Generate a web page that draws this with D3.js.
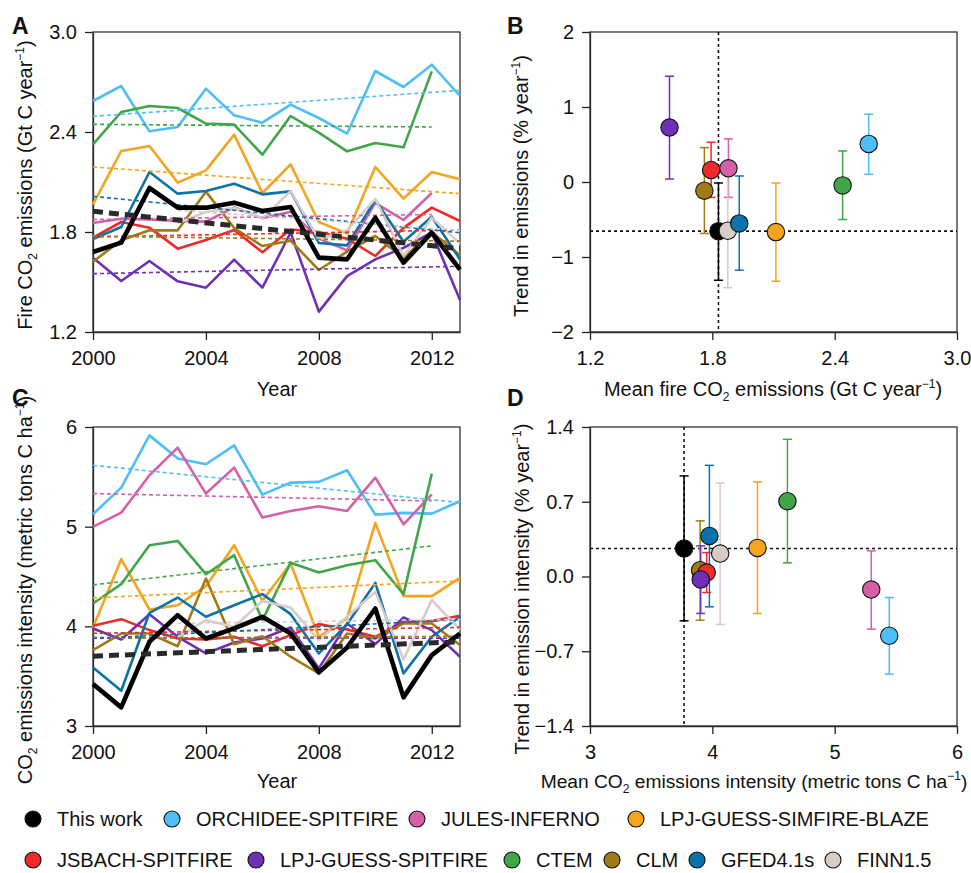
<!DOCTYPE html>
<html><head><meta charset="utf-8">
<script src="https://cdn.jsdelivr.net/npm/d3@7"></script>
<style>
body{margin:0;background:#fff}
svg{display:block}
text{font-family:"Liberation Sans",Arial,Helvetica,sans-serif;fill:#111}
</style>
</head><body>
<svg id="c" width="971" height="873"></svg>
<script>
// ---------------- DATA ----------------
const years = [2000,2001,2002,2003,2004,2005,2006,2007,2008,2009,2010,2011,2012,2013];
const models = ["This work","ORCHIDEE-SPITFIRE","JULES-INFERNO","LPJ-GUESS-SIMFIRE-BLAZE",
  "JSBACH-SPITFIRE","LPJ-GUESS-SPITFIRE","CTEM","CLM","GFED4.1s","FINN1.5"];
const colors = ["#000000","#4DBEF7","#D660A8","#F4A41D","#EE2A2A","#7030B5","#41A549","#A07A17","#0B72AA","#D9CBC8"];

// Panel A: fire CO2 emissions (Gt C / year)
const emisThisWork = [1.68,1.736,2.064,1.946,1.946,1.976,1.926,1.95,1.646,1.636,1.886,1.616,1.796,1.574];
const emisOrchidee = [2.586,2.676,2.404,2.43,2.66,2.50,2.456,2.564,2.484,2.39,2.766,2.67,2.804,2.616];
const emisJules    = [1.854,1.88,1.876,1.866,1.862,1.948,1.882,1.922,1.76,1.69,1.975,1.872,2.034,null];
const emisSimfire  = [1.966,2.286,2.316,2.096,2.17,2.384,2.034,2.206,1.86,1.79,2.19,2.0,2.16,2.116];
const emisJsbach   = [1.766,1.86,1.826,1.70,1.752,1.812,1.678,1.815,1.80,1.76,1.656,1.825,1.946,1.866];
const emisSpitfire = [1.646,1.506,1.626,1.504,1.466,1.634,1.466,1.797,1.322,1.535,1.636,1.705,1.797,1.392];
const emisCtem     = [2.326,2.52,2.556,2.544,2.45,2.444,2.264,2.496,2.396,2.284,2.334,2.308,2.764,null];
const emisClm      = [1.622,1.75,1.81,1.81,2.042,1.824,1.716,1.748,1.572,1.682,1.776,1.644,1.80,1.66];
const emisGfed     = [1.758,1.83,2.16,2.03,2.046,2.09,2.026,2.044,1.734,1.72,1.992,1.742,1.892,1.635];
const emisFinn     = [null,null,null,1.854,1.92,1.945,1.882,2.045,1.755,1.81,1.998,1.656,1.886,1.73];

// Panel C: CO2 emissions intensity (metric tons C / ha)
const intThisWork = [3.421,3.187,3.845,4.112,3.878,3.979,4.096,3.928,3.538,3.788,4.179,3.287,3.711,3.928];
const intOrchidee = [5.125,5.392,5.916,5.683,5.626,5.816,5.322,5.442,5.449,5.566,5.121,5.138,5.131,5.255];
const intJules    = [4.998,5.141,5.516,5.793,5.332,5.592,5.091,5.158,5.205,5.158,5.492,5.024,5.325,null];
const intSimfire  = [3.989,4.674,4.169,4.212,4.403,4.814,4.256,4.63,3.895,4.079,5.038,4.303,4.303,4.486];
const intJsbach   = [4.005,4.072,3.962,3.878,3.868,3.895,3.801,3.912,4.022,3.969,3.895,4.045,4.052,4.106];
const intSpitfire = [3.979,3.868,4.122,3.895,3.728,3.838,3.878,3.989,3.578,4.029,3.822,4.089,3.962,3.695];
const intCtem     = [4.229,4.423,4.814,4.857,4.523,4.714,4.062,4.637,4.54,4.613,4.664,4.323,5.532,null];
const intClm      = [3.761,3.928,3.928,3.80,4.48,3.82,3.90,3.695,3.528,3.928,3.878,4.029,4.029,3.812];
const intGfed     = [3.588,3.354,4.136,4.289,4.096,4.212,4.323,4.122,3.728,4.022,4.436,3.528,3.895,4.096];
const intFinn     = [null,null,null,3.888,4.062,3.995,4.253,4.189,3.862,4.096,4.346,3.668,4.263,3.969];

// Linear trend lines (start year, end year, start value, end value)
const trendYearStart = [2000,2000,2000,2000,2000,2000,2000,2000,2000,2003];
const trendYearEnd   = [2013,2013,2012,2013,2013,2013,2012,2013,2013,2013];
const trendEmisStart = [1.924,2.494,1.875,2.19,1.77,1.55,2.446,1.775,2.014,1.93];
const trendEmisEnd   = [1.70,2.65,1.905,2.03,1.812,1.594,2.43,1.745,1.796,1.81];
const trendIntStart  = [3.701,5.616,5.332,4.286,3.93,3.888,4.416,3.88,3.878,4.03];
const trendIntEnd    = [3.845,5.242,5.258,4.456,3.99,3.88,4.807,3.90,4.069,4.07];

// Panel B: mean emissions vs trend (% / year), with ranges
const meanEmis   = [1.83,2.567,1.879,2.112,1.794,1.59,2.439,1.761,1.932,1.876];
const trendEmis  = [-0.655,0.508,0.183,-0.668,0.16,0.726,-0.045,-0.116,-0.552,-0.65];
const trendEmisLo= [-1.31,0.102,-0.205,-1.323,-0.205,0.04,-0.5,-0.686,-1.176,-1.408];
const trendEmisHi= [-0.013,0.904,0.575,-0.013,0.53,1.41,0.414,0.459,0.08,0.11];

// Panel D: mean intensity vs trend (% / year), with ranges
const meanInt    = [3.769,5.446,5.299,4.369,3.954,3.905,4.614,3.9,3.976,4.064];
const trendInt   = [0.262,-0.555,-0.122,0.268,0.037,-0.028,0.705,0.059,0.38,0.215];
const trendIntLo = [-0.415,-0.914,-0.493,-0.346,-0.15,-0.346,0.128,-0.409,-0.284,-0.449];
const trendIntHi = [0.942,-0.197,0.24,0.886,0.224,0.287,1.285,0.521,1.041,0.876];

// Tick labels
const yearTicks = [2000,2004,2008,2012];
const ticksA = [1.2,1.8,2.4,3.0];
const ticksC = [3,4,5,6];
const ticksBx = [1.2,1.8,2.4,3.0];
const ticksBy = [-2,-1,0,1,2];
const ticksDx = [3,4,5,6];
const ticksDy = [-1.4,-0.7,0.0,0.7,1.4];

const emisSeries = [emisThisWork,emisOrchidee,emisJules,emisSimfire,emisJsbach,emisSpitfire,emisCtem,emisClm,emisGfed,emisFinn];
const intSeries  = [intThisWork,intOrchidee,intJules,intSimfire,intJsbach,intSpitfire,intCtem,intClm,intGfed,intFinn];

// ---------------- DRAWING ----------------
const svg = d3.select("#c");
const FS = 20;

function rich(sel, parts, fs) {
  fs = fs || FS;
  let shift = 0;
  parts.forEach(([t, k]) => {
    const ts = sel.append("tspan").text(t);
    let target = 0, size = fs;
    if (k === "sub") { target = 5; size = 12; }
    if (k === "sup") { target = -8; size = 12; }
    ts.attr("dy", target - shift).attr("font-size", size);
    shift = target;
  });
}

function panel(box, xDom, yDom, xTicks, yTicks, xFmt, yFmt) {
  const x = d3.scaleLinear().domain(xDom).range([box.x0, box.x1]);
  const y = d3.scaleLinear().domain(yDom).range([box.y1, box.y0]);
  const g = svg.append("g");
  const ax = g.append("g").attr("transform", `translate(0,${box.y1})`)
    .call(d3.axisBottom(x).tickValues(xTicks).tickFormat(xFmt).tickSize(8).tickSizeOuter(0).tickPadding(11));
  const ay = g.append("g").attr("transform", `translate(${box.x0},0)`)
    .call(d3.axisLeft(y).tickValues(yTicks).tickFormat(yFmt).tickSize(8).tickSizeOuter(0).tickPadding(8));
  [ax, ay].forEach(a => {
    a.attr("font-size", FS).attr("font-family", '"Liberation Sans",Arial,sans-serif');
    a.selectAll("text").attr("fill", "#111");
    a.selectAll("line").attr("stroke", "#222").attr("stroke-width", 1.3);
    a.select(".domain").attr("stroke", "#222").attr("stroke-width", 1.3);
  });
  g.append("rect").attr("x", box.x0).attr("y", box.y0)
    .attr("width", box.x1 - box.x0).attr("height", box.y1 - box.y0)
    .attr("fill", "none").attr("stroke", "#333").attr("stroke-width", 1.3);
  return {x, y, g};
}

const boxA = {x0:93, x1:460, y0:32, y1:332};
const boxB = {x0:590, x1:957, y0:32, y1:332};
const boxC = {x0:93, x1:460, y0:427, y1:726};
const boxD = {x0:590, x1:957, y0:427, y1:726};

function timePanel(box, yDom, yTicks, yFmt, series, tStart, tEnd) {
  const p = panel(box, [2000, 2013], yDom, yearTicks, yTicks, d3.format("d"), yFmt);
  const line = d3.line().defined(d => d[1] != null).x(d => p.x(d[0])).y(d => p.y(d[1]));
  const L = p.g.append("g");
  for (let i = 1; i < series.length; i++) {
    L.append("path").datum(years.map((yr, j) => [yr, series[i][j]]))
      .attr("d", line).attr("fill", "none").attr("stroke", colors[i])
      .attr("stroke-width", 2.6).attr("stroke-linejoin", "round");
  }
  for (let i = 1; i < series.length; i++) {
    L.append("path").datum([[trendYearStart[i], tStart[i]], [trendYearEnd[i], tEnd[i]]])
      .attr("d", line).attr("fill", "none").attr("stroke", colors[i])
      .attr("stroke-width", 1.6).attr("stroke-dasharray", "4,3");
  }
  L.append("path").datum(years.map((yr, j) => [yr, series[0][j]]))
    .attr("d", line).attr("fill", "none").attr("stroke", "#000")
    .attr("stroke-width", 4.6).attr("stroke-linejoin", "round");
  L.append("path").datum([[trendYearStart[0], tStart[0]], [trendYearEnd[0], tEnd[0]]])
    .attr("d", line).attr("fill", "none").attr("stroke", "#2a2a2a")
    .attr("stroke-width", 5).attr("stroke-dasharray", "10,6");
  return p;
}

function scatterPanel(box, xDom, yDom, xTicks, yTicks, xFmt, yFmt, mx, ty, lo, hi) {
  const p = panel(box, xDom, yDom, xTicks, yTicks, xFmt, yFmt);
  const G = p.g.append("g");
  G.append("line").attr("x1", p.x(mx[0])).attr("x2", p.x(mx[0]))
    .attr("y1", box.y0).attr("y2", box.y1)
    .attr("stroke", "#111").attr("stroke-width", 1.6).attr("stroke-dasharray", "3,3");
  G.append("line").attr("x1", box.x0).attr("x2", box.x1)
    .attr("y1", p.y(ty[0])).attr("y2", p.y(ty[0]))
    .attr("stroke", "#111").attr("stroke-width", 1.6).attr("stroke-dasharray", "3,3");
  const order = [0,1,2,3,7,4,5,6,9,8];
  order.forEach(i => {
    const cx = p.x(mx[i]);
    const c = colors[i];
    G.append("line").attr("x1", cx).attr("x2", cx).attr("y1", p.y(lo[i])).attr("y2", p.y(hi[i]))
      .attr("stroke", c).attr("stroke-width", 1.5);
    [lo[i], hi[i]].forEach(v => {
      G.append("line").attr("x1", cx - 4.5).attr("x2", cx + 4.5).attr("y1", p.y(v)).attr("y2", p.y(v))
        .attr("stroke", c).attr("stroke-width", 1.5);
    });
  });
  order.forEach(i => {
    G.append("circle").attr("cx", p.x(mx[i])).attr("cy", p.y(ty[i])).attr("r", 8.7)
      .attr("fill", colors[i]).attr("stroke", "#111").attr("stroke-width", 1.1);
  });
  return p;
}

timePanel(boxA, [1.2, 3.0], ticksA, d3.format(".1f"), emisSeries, trendEmisStart, trendEmisEnd);
timePanel(boxC, [3, 6], ticksC, d3.format("d"), intSeries, trendIntStart, trendIntEnd);
scatterPanel(boxB, [1.2, 3.0], [-2, 2], ticksBx, ticksBy, d3.format(".1f"), d3.format("d"),
  meanEmis, trendEmis, trendEmisLo, trendEmisHi);
scatterPanel(boxD, [3, 6], [-1.4, 1.4], ticksDx, ticksDy, d3.format("d"), d3.format(".1f"),
  meanInt, trendInt, trendIntLo, trendIntHi);

// panel letters
[["A",12,34],["B",507,34],["C",12,406],["D",507,406]].forEach(([t,x,y]) => {
  svg.append("text").attr("x", x).attr("y", y).attr("font-size", 23).attr("font-weight", "bold").text(t);
});

// axis titles
function xTitle(cx, y, parts, fs) {
  const t = svg.append("text").attr("x", cx).attr("y", y).attr("text-anchor", "middle").attr("font-size", fs || FS);
  rich(t, parts, fs);
}
function yTitle(x, cy, parts) {
  const t = svg.append("text").attr("transform", `translate(${x},${cy}) rotate(-90)`)
    .attr("text-anchor", "middle").attr("font-size", FS);
  rich(t, parts);
}
xTitle(277, 396, [["Year","n"]]);
xTitle(277, 788, [["Year","n"]]);
xTitle(773, 396, [["Mean fire CO","n"],["2","sub"],[" emissions (Gt C year","n"],["\u22121","sup"],[")","n"]]);
xTitle(754, 788, [["Mean CO","n"],["2","sub"],[" emissions intensity (metric tons C ha","n"],["\u22121","sup"],[")","n"]], 19.2);
yTitle(32, 185, [["Fire CO","n"],["2","sub"],[" emissions (Gt C year","n"],["\u22121","sup"],[")","n"]]);
yTitle(528, 186, [["Trend in emissions (% year","n"],["\u22121","sup"],[")","n"]]);
yTitle(32, 590, [["CO","n"],["2","sub"],[" emissions intensity (metric tons C ha","n"],["\u22121","sup"],[")","n"]]);
yTitle(529, 589, [["Trend in emission intensity (% year","n"],["\u22121","sup"],[")","n"]]);

// legend (layout: circle centres per row)
const legendRows = [[0,1,2,3],[4,5,6,7,8,9]];
const legendX = [[33,172,417,636],[33,256,512,612,697,833]];
const rowY = [819, 860];
legendRows.forEach((row, r) => {
  row.forEach((i, k) => {
    const x = legendX[r][k];
    svg.append("circle").attr("cx", x).attr("cy", rowY[r]).attr("r", 8)
      .attr("fill", colors[i]).attr("stroke", "#111").attr("stroke-width", 1.1);
    svg.append("text").attr("x", x + 24).attr("y", rowY[r] + 7)
      .attr("font-size", FS).text(models[i]);
  });
});
</script>
</body></html>
